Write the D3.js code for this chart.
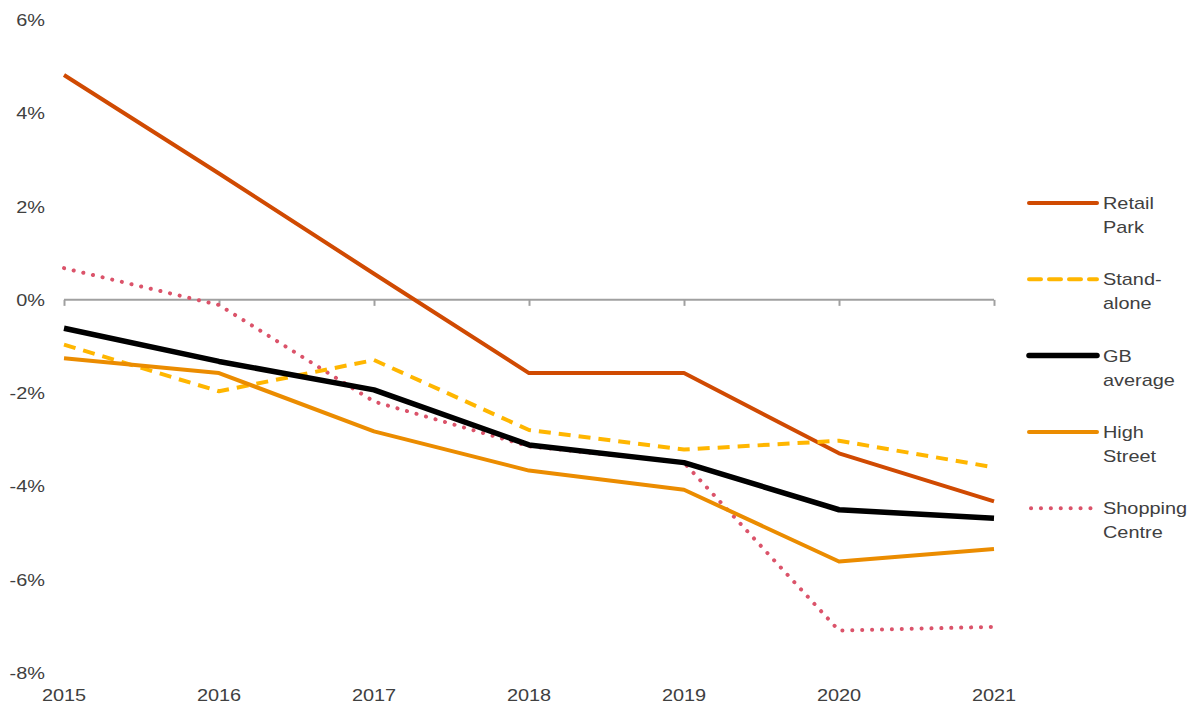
<!DOCTYPE html>
<html>
<head>
<meta charset="utf-8">
<script src="https://cdn.jsdelivr.net/npm/d3@7"></script>
<style>
  body { margin: 0; background: #fff; }
  text { font-family: "Liberation Sans", Arial, sans-serif; }
</style>
</head>
<body>
<svg id="chart" width="1195" height="708"></svg>
<script>
// data
var years = [2015, 2016, 2017, 2018, 2019, 2020, 2021];
var yTicks = [6, 4, 2, 0, -2, -4, -6, -8];

var retailPark = [4.82, 2.71, 0.56, -1.57, -1.57, -3.29, -4.32];
var standAlone = [-0.96, -1.96, -1.29, -2.79, -3.21, -3.02, -3.59];
var gbAverage = [-0.61, -1.32, -1.93, -3.11, -3.49, -4.50, -4.68];
var highStreet = [-1.25, -1.57, -2.82, -3.66, -4.07, -5.61, -5.34];
var shoppingCentre = [0.68, -0.11, -2.18, -3.14, -3.49, -7.09, -7.01];

var seriesNames = [["Retail", "Park"], ["Stand-", "alone"], ["GB", "average"], ["High", "Street"], ["Shopping", "Centre"]];

var series = [
    {values: retailPark, color: '#D04A02', width: 4, dash: null, cap: 'butt'},
    {values: standAlone, color: '#FFB600', width: 4, dash: '12,8', cap: 'butt'},
    {values: gbAverage, color: '#000000', width: 5.5, dash: null, cap: 'butt'},
    {values: highStreet, color: '#EB8C00', width: 4, dash: null, cap: 'butt'},
    {values: shoppingCentre, color: '#DB536A', width: 4, dash: '0.1,9.8', cap: 'round'}
];
// shopping dots sit under the other lines
var drawOrder = [4, 0, 1, 3, 2];

var FONT = 17, STRETCH = 1.17; // the source text is a bit wide

var svg = d3.select('#chart');

var x = d3.scaleLinear().domain([2015, 2021]).range([64, 994]);
var y = d3.scaleLinear().domain([-8, 6]).range([673, 20]);

function label(g, tx, ty, anchor) {
    return g.append('text')
        .attr('transform', 'translate(' + tx + ',' + ty + ') scale(' + STRETCH + ',1)')
        .attr('dy', '0.35em')
        .attr('text-anchor', anchor)
        .attr('font-size', FONT)
        .attr('fill', '#404040');
}

// y labels
var yg = svg.append('g');
yTicks.forEach(function (d) {
    label(yg, 45, y(d), 'end').text(d + '%');
});

// zero axis with ticks
var xAxis = d3.axisBottom(x).tickValues(years).tickSize(6).tickFormat('');
var axisG = svg.append('g').attr('transform', 'translate(0,' + y(0) + ')').call(xAxis);
axisG.select('.domain').attr('stroke', '#a0a0a0').attr('stroke-width', 2).attr('d', 'M' + x(2015) + ',0H' + x(2021));
axisG.selectAll('.tick line').attr('stroke', '#a0a0a0').attr('stroke-width', 2);

// year labels along the bottom
var xg = svg.append('g');
years.forEach(function (d) {
    label(xg, x(d), 695, 'middle').text(d);
});

var line = d3.line()
    .x(function (d, i) { return x(years[i]); })
    .y(function (d) { return y(d); });

drawOrder.forEach(function (k) {
    var s = series[k];
    svg.append('path')
        .datum(s.values)
        .attr('d', line)
        .attr('fill', 'none')
        .attr('stroke', s.color)
        .attr('stroke-width', s.width)
        .attr('stroke-linejoin', 'round')
        .attr('stroke-linecap', s.cap)
        .attr('stroke-dasharray', s.dash);
});

// legend
var legend = svg.append('g');
series.forEach(function (s, i) {
    var ly = 203 + i * 76.3;
    legend.append('line')
        .attr('x1', s.cap === 'round' ? 1031 : 1029)
        .attr('x2', 1097)
        .attr('y1', ly).attr('y2', ly)
        .attr('stroke', s.color)
        .attr('stroke-width', s.width)
        .attr('stroke-linecap', 'round')
        .attr('stroke-dasharray', s.dash);
    seriesNames[i].forEach(function (w, j) {
        label(legend, 1103, ly + j * 24, 'start').text(w);
    });
});
</script>
</body>
</html>
